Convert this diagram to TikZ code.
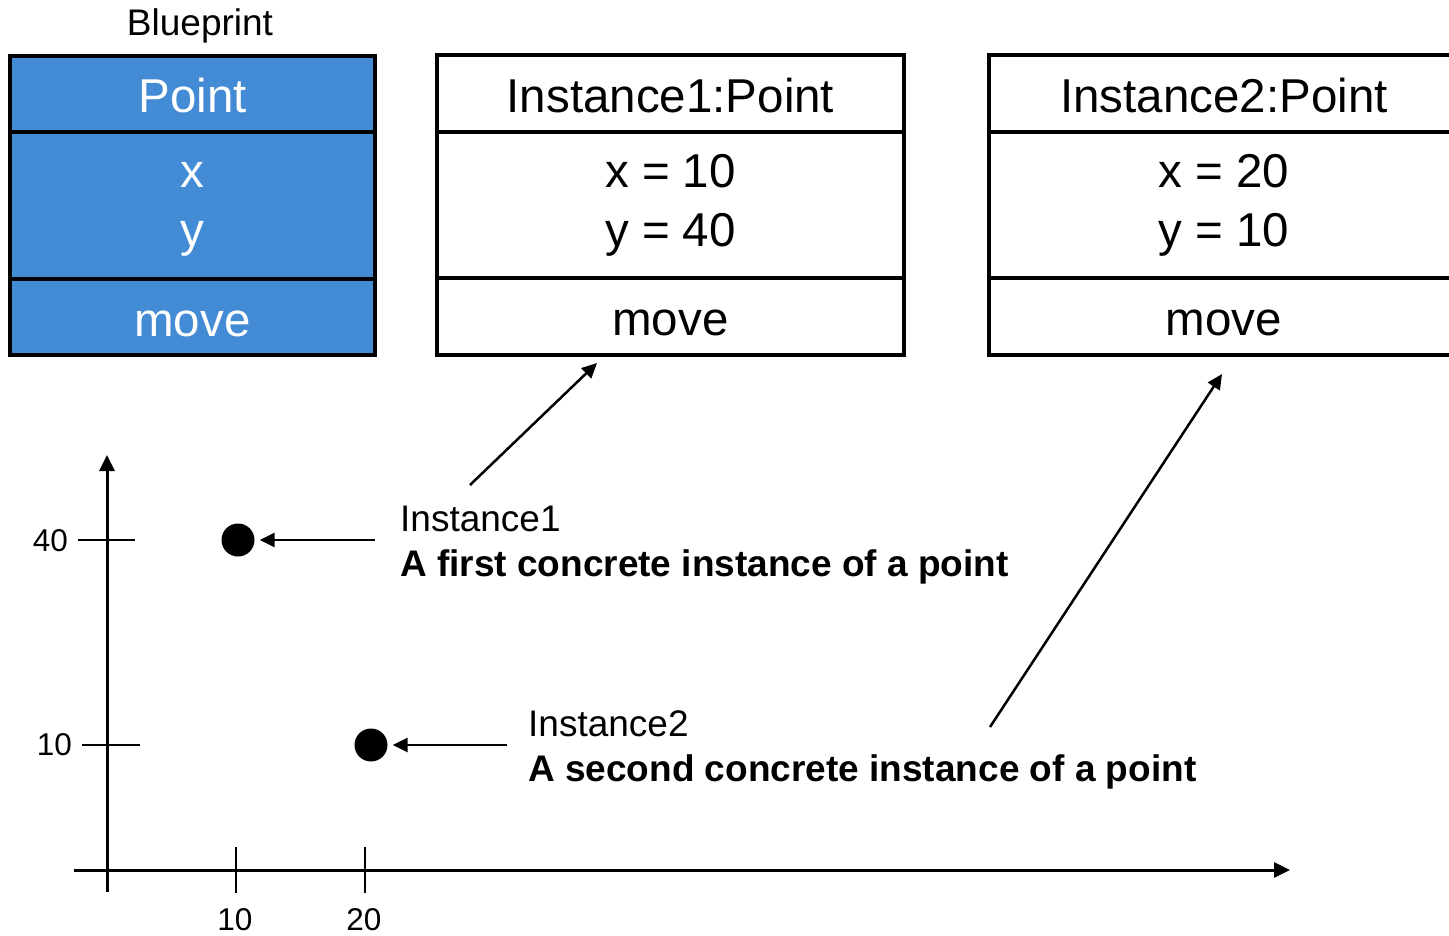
\documentclass[tikz,border=0pt]{standalone}
\usepackage{fontspec}
\setmainfont{Liberation Sans}
\usetikzlibrary{arrows.meta}
\definecolor{classblue}{RGB}{67,139,213}
\begin{document}
\begin{tikzpicture}[x=1pt,y=-1pt,
  part/.style={draw, line width=3.5pt, inner sep=0pt, outer sep=0pt, anchor=north west,
               font=\fontsize{47.5}{58}\selectfont, text height=46pt, text depth=8pt},
  bp/.style={part, fill=classblue, text=white},
  boxline/.style={anchor=base, inner sep=0pt, font=\fontsize{47.5}{58}\selectfont},
  lbl/.style={anchor=base west, inner sep=0pt, font=\fontsize{37}{44}\selectfont},
  lblb/.style={anchor=base west, inner sep=0pt, font=\fontsize{37}{44}\selectfont\bfseries},
  num/.style={inner sep=0pt, font=\fontsize{31.5}{38}\selectfont},
  axisline/.style={line width=3pt, -{Triangle[length=16pt,width=15pt]}},
  tickline/.style={line width=1.2pt},
  ptr/.style={line width=2.5pt, -{Triangle[length=15pt,width=14pt]}},
  dot/.style={circle, fill=black, minimum size=33pt, inner sep=0pt},
]
\useasboundingbox (0,0) rectangle (1449,936);

% class blueprint
\node[anchor=base, inner sep=0pt, font=\fontsize{37}{44}\selectfont] (bpTitle) at (200,36) {Blueprint};
\node[bp, minimum width=365pt, minimum height=76pt] (bpName) at (10,56) {Point};
\node[bp, minimum width=365pt, minimum height=147pt] (bpAttr) at (bpName.south west) {};
\node[bp, minimum width=365pt, minimum height=76pt] (bpOps) at (bpAttr.south west) {move};
\node[boxline, text=white] (bpX) at ([yshift=17.5pt]bpAttr.center) {x};
\node[boxline, text=white] (bpY) at ([yshift=-41.5pt]bpAttr.center) {y};

% first instance
\node[part, minimum width=467pt, minimum height=77pt] (iaName) at (437,55) {Instance1:Point};
\node[part, minimum width=467pt, minimum height=146pt] (iaAttr) at (iaName.south west) {};
\node[part, minimum width=467pt, minimum height=77pt] (iaOps) at (iaAttr.south west) {move};
\node[boxline] (iaX) at ([yshift=17.5pt]iaAttr.center) {x = 10};
\node[boxline] (iaY) at ([yshift=-41.5pt]iaAttr.center) {y = 40};

% second instance
\node[part, minimum width=470pt, minimum height=77pt] (ibName) at (989,55) {Instance2:Point};
\node[part, minimum width=470pt, minimum height=146pt] (ibAttr) at (ibName.south west) {};
\node[part, minimum width=470pt, minimum height=77pt] (ibOps) at (ibAttr.south west) {move};
\node[boxline] (ibX) at ([yshift=17.5pt]ibAttr.center) {x = 20};
\node[boxline] (ibY) at ([yshift=-41.5pt]ibAttr.center) {y = 10};

% coordinate axes
\coordinate (xStart) at (74,870);
\coordinate (xEnd) at (1290,870);
\coordinate (yStart) at (107,892);
\coordinate (yEnd) at (107,455);
\draw[axisline] (xStart) -- (xEnd);
\draw[axisline] (yStart) -- (yEnd);

% ticks and tick labels
\draw[tickline] (78,540) -- (135,540);
\draw[tickline] (82,745) -- (140,745);
\draw[tickline] (236,847) -- (236,893);
\draw[tickline] (365,847) -- (365,893);
\node[num, anchor=east] (yForty) at (68,541) {40};
\node[num, anchor=east] (yTen) at (72,745) {10};
\node[num] (xTen) at (235,920) {10};
\node[num] (xTwenty) at (364,920) {20};

% the two points
\node[dot] (p1) at (238,540) {};
\node[dot] (p2) at (371,745) {};

% captions
\node[lbl] (capA) at (400,531) {Instance1};
\node[lblb] (capAb) at (400,576) {A first concrete instance of a point};
\node[lbl] (capB) at (528,736) {Instance2};
\node[lblb] (capBb) at (528,781) {A second concrete instance of a point};

% pointers
\coordinate (p1from) at (375,540);
\coordinate (p2from) at (507,745);
\coordinate (iaFrom) at (470,485);
\coordinate (iaTo) at (597,363);
\coordinate (ibFrom) at (990,727);
\coordinate (ibTo) at (1222,374);
\draw[ptr, shorten >=5pt] (p1from) -- (p1);
\draw[ptr, shorten >=5pt] (p2from) -- (p2);
\draw[ptr] (iaFrom) -- (iaTo);
\draw[ptr] (ibFrom) -- (ibTo);
\end{tikzpicture}
\end{document}
